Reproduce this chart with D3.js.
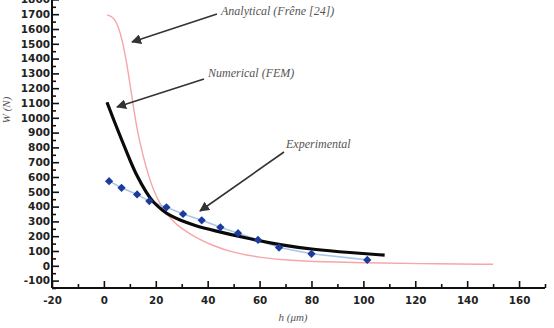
<!DOCTYPE html>
<html><head><meta charset="utf-8">
<script src="https://cdn.jsdelivr.net/npm/d3@7"></script>
<style>
html,body{margin:0;padding:0;background:#fff;overflow:hidden}
svg{display:block}
</style></head>
<body>
<svg id="c" width="554" height="328"></svg>
<script>
// Analytical (Frêne [24])
const anaH = [1.2,2.5,4,5.5,7,8.5,10,11.5,13,15,17,19,22,26,30,35,42,50,60,70,85,100,120,150];
const anaW = [1695,1690,1670,1620,1530,1400,1235,1060,900,750,620,515,400,310,250,195,135,88,57,38,26,20,15,10];
// Numerical (FEM)
const numH = [1.2,4,7,10,12.6,16.4,19,22.8,25.4,29.3,35,42,55,68,80.6,95,108.2];
const numW = [1105,975,845,715,610,492,428,372,340,308,272,240,186,141,110,89,72];
// Experimental
const expH = [2.0,6.8,12.8,17.5,24.1,30.5,37.7,44.9,51.7,59.4,67.5,80,101.5];
const expW = [572,527,482,437,395,350,307,260,220,175,123,81,40];
// Axis ticks
const xTickLabels = [-20,0,20,40,60,80,100,120,140,160];
const yTickLabels = [-100,0,100,200,300,400,500,600,700,800,900,1000,1100,1200,1300,1400,1500,1600,1700,1800];
const xLabel = "h (μm)";
const yLabel = "W (N)";
const annotations = [
  {text:"Analytical (Frêne [24])", tx:221, ty:15, from:[217,14], to:[132,42]},
  {text:"Numerical (FEM)", tx:208, ty:77, from:[204,79], to:[117,107]},
  {text:"Experimental", tx:286, ty:148, from:[284,152], to:[200,211]}
];

const svg = d3.select("#c");
const x = d3.scaleLinear().domain([-20,170]).range([52,545]);
const y = d3.scaleLinear().domain([-150,1800]).range([288,-0.6]);

const tickFont = "'DejaVu Sans', sans-serif";
const fmt = d => String(d);

// X axis
const xMinor = d3.range(-20,171,10);
const gx = svg.append("g").attr("transform","translate(0,288)");
gx.call(d3.axisTop(x).tickValues(xMinor).tickSize(7).tickFormat(""));
gx.selectAll(".tick line").attr("y2", d => (d % 20 === 0) ? -7 : -4).attr("stroke","#111").attr("stroke-width",1.6);
gx.select(".domain").attr("stroke","#111").attr("stroke-width",2).attr("d","M52,0H545");
const gxl = svg.append("g").attr("transform","translate(0,288)");
gxl.call(d3.axisBottom(x).tickValues(xTickLabels).tickSize(0).tickPadding(9).tickFormat(fmt));
gxl.select(".domain").remove();
gxl.selectAll("text").attr("font-family",tickFont).attr("font-weight","bold").attr("font-size","10.3px").attr("fill","#222");

// Y axis
const yMinor = d3.range(-150,1801,50);
const gy = svg.append("g").attr("transform","translate(52,0)");
gy.call(d3.axisRight(y).tickValues(yMinor).tickSize(7).tickFormat(""));
gy.selectAll(".tick line").attr("x2", d => (d % 100 === 0) ? 7 : 4).attr("stroke","#111").attr("stroke-width",1.6);
gy.select(".domain").attr("stroke","#111").attr("stroke-width",2).attr("d","M0,288V-2");
const gyl = svg.append("g").attr("transform","translate(52,0)");
gyl.call(d3.axisLeft(y).tickValues(yTickLabels).tickSize(0).tickPadding(2).tickFormat(fmt));
gyl.select(".domain").remove();
gyl.selectAll("text").attr("font-family",tickFont).attr("font-weight","bold").attr("font-size","10.5px").attr("fill","#222");

// Axis titles
svg.append("text").attr("x",293).attr("y",321).attr("text-anchor","middle")
  .attr("font-family","'Liberation Serif', serif").attr("font-style","italic").attr("font-size","11px").attr("fill","#555").text(xLabel);
svg.append("text").attr("transform","translate(10,110) rotate(-90)").attr("text-anchor","middle")
  .attr("font-family","'Liberation Serif', serif").attr("font-style","italic").attr("font-size","11px").attr("fill","#555").text(yLabel);

// Curves
const smooth = d3.line().x(d=>x(d[0])).y(d=>y(d[1])).curve(d3.curveBasis);
const ana = anaH.map((h,i)=>[h,anaW[i]]);
const num = numH.map((h,i)=>[h,numW[i]]);
const exp = expH.map((h,i)=>[h,expW[i]]);

svg.append("path").datum(ana).attr("d",smooth).attr("fill","none").attr("stroke","#f6a5a8").attr("stroke-width",1.4);
svg.append("path").datum(exp).attr("d",d3.line().x(d=>x(d[0])).y(d=>y(d[1]))).attr("fill","none").attr("stroke","#a9c6ea").attr("stroke-width",1.6);
svg.append("path").datum(num).attr("d",smooth).attr("fill","none").attr("stroke","#0a0a0a").attr("stroke-width",3.2).attr("stroke-linecap","butt");
svg.append("g").selectAll("path").data(exp).join("path")
  .attr("d",d3.symbol(d3.symbolSquare, 34))
  .attr("transform",d=>`translate(${x(d[0])},${y(d[1])}) rotate(45)`)
  .attr("fill","#1c3b9c");

// Annotations
svg.append("defs").append("marker").attr("id","ah").attr("viewBox","0 0 10 10")
  .attr("refX",9).attr("refY",5).attr("markerWidth",10).attr("markerHeight",10)
  .attr("markerUnits","userSpaceOnUse").attr("orient","auto")
  .append("path").attr("d","M0,0L10,5L0,10z").attr("fill","#333");
const ga = svg.append("g");
annotations.forEach(a=>{
  ga.append("line").attr("x1",a.from[0]).attr("y1",a.from[1]).attr("x2",a.to[0]).attr("y2",a.to[1])
    .attr("stroke","#333").attr("stroke-width",1.6).attr("marker-end","url(#ah)");
  ga.append("text").attr("x",a.tx).attr("y",a.ty).attr("font-family","'Liberation Serif', serif")
    .attr("font-style","italic").attr("font-size","12px").attr("fill","#555").text(a.text);
});
</script>
</body></html>
